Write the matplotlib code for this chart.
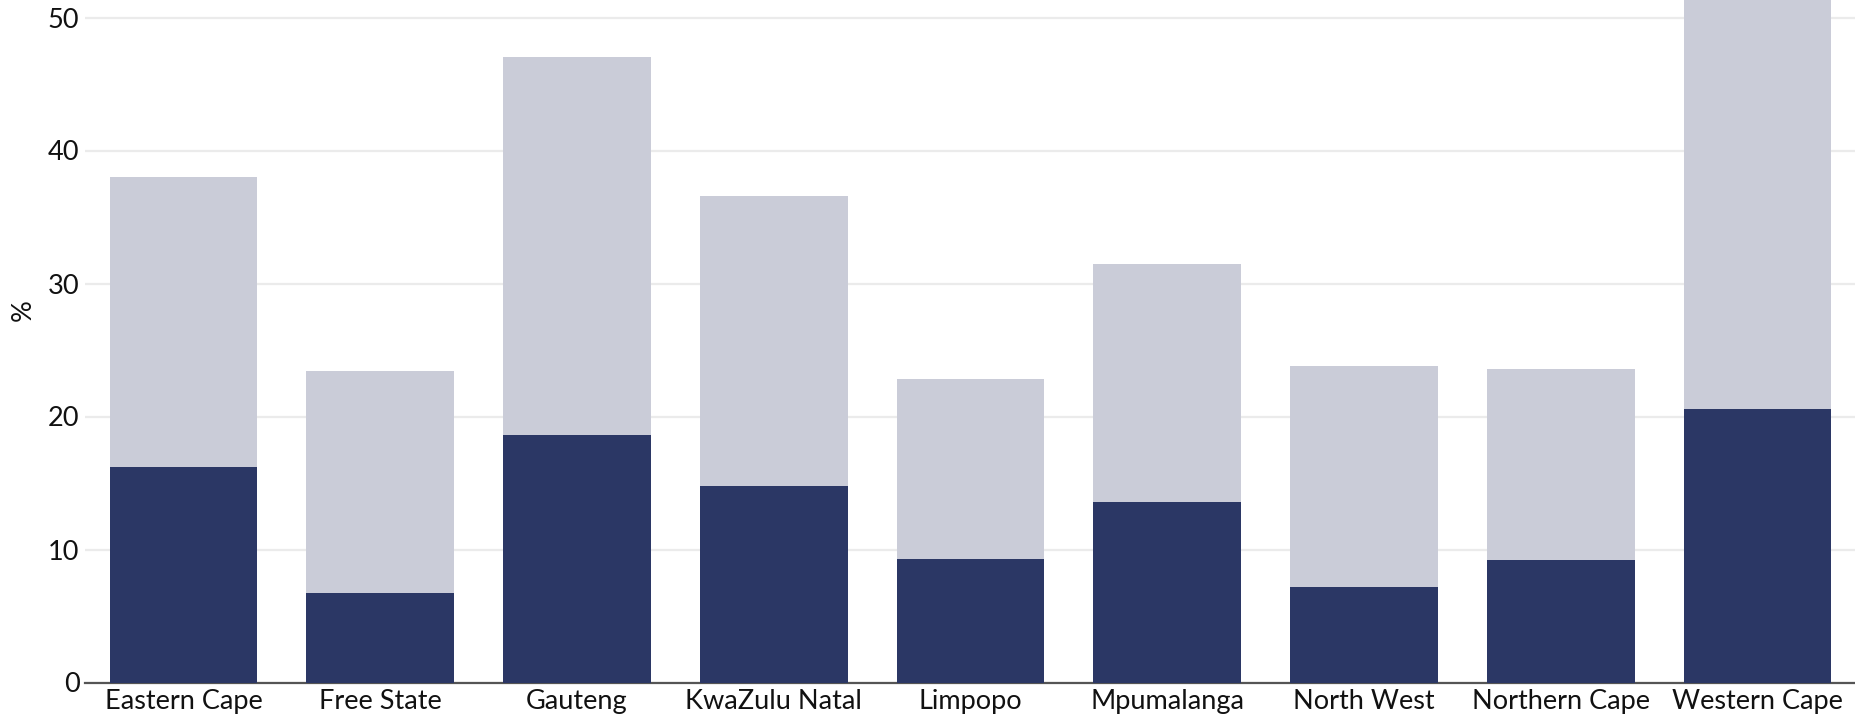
import matplotlib
matplotlib.use("Agg")
import matplotlib.pyplot as plt

provinces = ["Eastern Cape", "Free State", "Gauteng", "KwaZulu Natal", "Limpopo",
             "Mpumalanga", "North West", "Northern Cape", "Western Cape"]
total_values = [38.0, 23.4, 47.0, 36.6, 22.8, 31.5, 23.8, 23.6, 56.0]
dark_values = [16.2, 6.7, 18.6, 14.8, 9.3, 13.6, 7.2, 9.2, 20.6]
y_ticks = [0, 10, 20, 30, 40, 50]

plt.rcParams['font.family'] = ['Lato', 'DejaVu Sans']

fig = plt.figure(figsize=(18.56, 7.19), dpi=100)
# axes extends above the figure (top clipped), as in the reference
bottom = 36.5 / 719
px_per_unit = 13.3
top_px = 682.5 - 56 * px_per_unit
height = (682.5 - top_px) / 719
ax = fig.add_axes([85/1856, bottom, 1 - 85/1856, height])

x = list(range(len(provinces)))
ax.bar(x, total_values, width=0.75, color="#CACCD8", zorder=2)
ax.bar(x, dark_values, width=0.75, color="#2B3765", zorder=3)

ax.set_xlim(-0.5, 8.5)
ax.set_ylim(0, 56)
ax.set_yticks(y_ticks)
ax.set_xticks(x)
ax.set_xticklabels(provinces)
ax.tick_params(axis='both', length=0, labelsize=19.5, colors="#111111")
ax.tick_params(axis='x', pad=5)
ax.tick_params(axis='y', pad=4)
ax.grid(axis='y', color="#EBEBEB", linewidth=1.6, zorder=0)
ax.set_axisbelow(True)
for s in ["top", "right", "left"]:
    ax.spines[s].set_visible(False)
ax.spines["bottom"].set_color("#555555")
ax.spines["bottom"].set_linewidth(1.6)
ax.spines["bottom"].set_zorder(1)
ax.set_ylabel("%", fontsize=19.5, color="#111111", labelpad=9)

fig.savefig("out.png", dpi=100)
